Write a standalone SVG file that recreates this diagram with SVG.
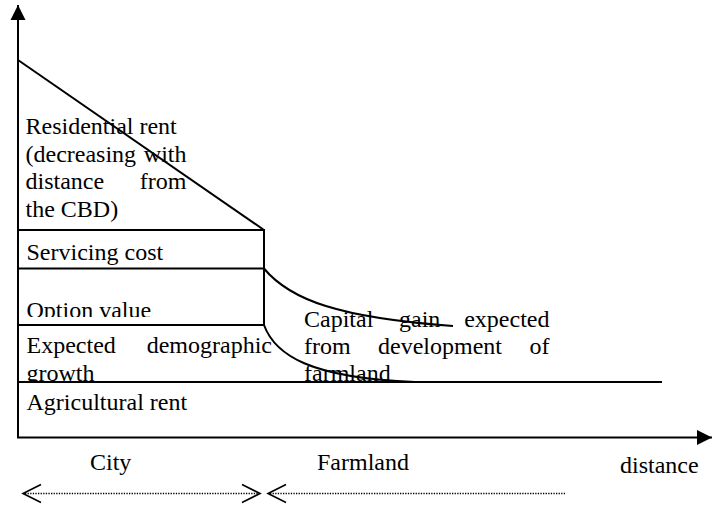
<svg xmlns="http://www.w3.org/2000/svg" width="712" height="508" viewBox="0 0 712 508">
  <style>
    .ln { fill: none; stroke: #000; stroke-width: 2; }
    .dot { fill: none; stroke: #000; stroke-width: 1.3; stroke-dasharray: 1.3 1.3; }
    .chev { fill: none; stroke: #000; stroke-width: 1.6; }
    .mask { fill: #fff; }
  </style>
  <defs>
    <marker id="axisHead" markerUnits="userSpaceOnUse" markerWidth="16" markerHeight="16" refX="15" refY="8" orient="auto">
      <path d="M0,0.5 L15,8 L0,15.5 Z" fill="#000"/>
    </marker>
  </defs>

  <g id="texts" fill="#000" font-family="Times New Roman, Liberation Serif, Tinos, Times, serif" font-size="24">
    <g id="residential-rent">
      <text x="25.5" y="134">Residential rent</text>
      <text x="25.5" y="161.5">(decreasing</text>
      <text x="186.5" y="161.5" text-anchor="end">with</text>
      <text x="25.5" y="189">distance</text>
      <text x="186.5" y="189" text-anchor="end">from</text>
      <text x="25.5" y="216.5">the CBD)</text>
    </g>
    <g id="servicing-cost">
      <text x="26.5" y="260">Servicing cost</text>
    </g>
    <g id="option-value">
      <text x="26.5" y="318">Option value</text>
    </g>
    <g id="demographic-growth">
      <text x="26.5" y="353">Expected</text>
      <text x="272" y="353" text-anchor="end">demographic</text>
      <text x="26.5" y="381">growth</text>
    </g>
    <g id="agricultural-rent">
      <text x="26.5" y="410">Agricultural rent</text>
    </g>
    <g id="capital-gain">
      <text x="304" y="327">Capital</text>
      <text x="399" y="327">gain</text>
      <text x="549.5" y="327" text-anchor="end">expected</text>
      <text x="304" y="354">from</text>
      <text x="378" y="354">development</text>
      <text x="549.5" y="354" text-anchor="end">of</text>
      <text x="304" y="381">farmland</text>
    </g>
    <g id="labels">
      <text x="90" y="470">City</text>
      <text x="317" y="470">Farmland</text>
      <text x="620" y="473">distance</text>
    </g>
  </g>

  <g id="masks">
    <rect class="mask" x="19" y="317" width="244" height="8"/>
    <rect class="mask" x="19" y="383" width="420" height="7"/>
  </g>

  <g id="shapes">
    <g id="axes">
      <line class="ln" x1="18" y1="438" x2="18" y2="5" marker-end="url(#axisHead)"/>
      <line class="ln" x1="17" y1="437.5" x2="712" y2="437.5" marker-end="url(#axisHead)"/>
    </g>
    <g id="bands">
      <line class="ln" x1="18" y1="60" x2="264" y2="230"/>
      <line class="ln" x1="18" y1="230" x2="264" y2="230"/>
      <line class="ln" x1="18" y1="268.5" x2="264" y2="268.5"/>
      <line class="ln" x1="264" y1="229" x2="264" y2="326"/>
      <line class="ln" x1="18" y1="325" x2="264" y2="325"/>
      <line class="ln" x1="18" y1="382" x2="662" y2="382"/>
      <path class="ln" d="M264,268.5 C290,300 340,318 453,326"/>
      <path class="ln" d="M264,325 C275,355 310,378 415,382"/>
    </g>
  </g>

  <g id="connectors">
    <line class="dot" x1="25" y1="493.5" x2="258" y2="493.5"/>
    <line class="dot" x1="270" y1="493.5" x2="565" y2="493.5"/>
    <path class="chev" d="M41,484.5 L23,493.5 L41,502.5"/>
    <path class="chev" d="M242,484.5 L260,493.5 L242,502.5"/>
    <path class="chev" d="M286,484.5 L268,493.5 L286,502.5"/>
  </g>
</svg>
